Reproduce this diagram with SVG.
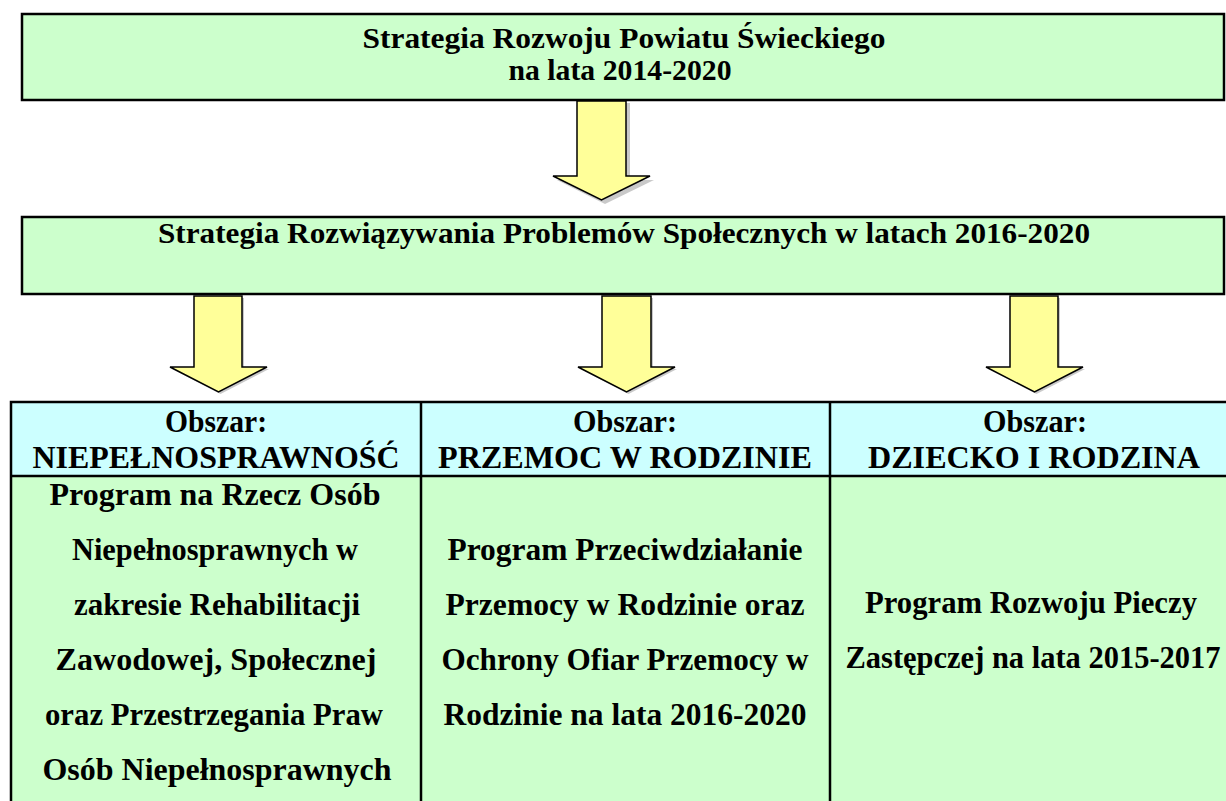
<svg xmlns="http://www.w3.org/2000/svg" width="1226" height="801" viewBox="0 0 1226 801">
<style>
.box{fill:#CCFFCC;stroke:#000;stroke-width:2.5}
.hdr{fill:#CCFFFF}
.body{fill:#CCFFCC}
.line{stroke:#000;stroke-width:2.5;fill:none}
.t{font-family:"Liberation Serif","Times New Roman",serif;font-weight:bold;fill:#000;text-anchor:middle}
.tt{font-size:30px}
.th{font-size:31px}
.tb{font-size:31px}
.arrow{fill:#FFFF99;stroke:#000;stroke-width:1.5;stroke-linejoin:miter}
.shadow{fill:#888;opacity:0.45}
</style>
<rect width="1226" height="801" fill="#fff"/>

<g id="node-strategia-powiatu">
<rect class="box" x="22" y="14" width="1202" height="86"/>
<text class="t tt" x="624" y="48" textLength="523" lengthAdjust="spacingAndGlyphs">Strategia Rozwoju Powiatu Świeckiego</text>
<text class="t tt" x="620" y="80" textLength="223" lengthAdjust="spacingAndGlyphs">na lata 2014-2020</text>
</g>

<g id="node-strategia-problemow">
<rect class="box" x="22" y="217" width="1202" height="77"/>
<text class="t tt" x="624" y="243" textLength="932" lengthAdjust="spacingAndGlyphs">Strategia Rozwiązywania Problemów Społecznych w latach 2016-2020</text>
</g>

<g id="connectors">
<path class="shadow" d="M579,101 H628 V178 H652 L603,202 L555,178 H579 Z" transform="translate(2,2)"/>
<path class="arrow" d="M577,101 H626 V176 H650 L601.5,200 L553,176 H577 Z"/>
<path class="shadow" d="M194,296 H242 V367 H267 L218.5,392 L170,367 H194 Z" transform="translate(2,2)"/>
<path class="arrow" d="M194,296 H242 V367 H267 L218.5,392 L170,367 H194 Z"/>
<path class="shadow" d="M602,296 H651 V367 H675 L626.5,392 L578,367 H602 Z" transform="translate(2,2)"/>
<path class="arrow" d="M602,296 H651 V367 H675 L626.5,392 L578,367 H602 Z"/>
<path class="shadow" d="M1010,296 H1058 V367 H1083 L1034.5,392 L986,367 H1010 Z" transform="translate(2,2)"/>
<path class="arrow" d="M1010,296 H1058 V367 H1083 L1034.5,392 L986,367 H1010 Z"/>
</g>

<g id="table">
<rect class="hdr" x="11" y="402" width="1230" height="74"/>
<rect class="body" x="11" y="476" width="1230" height="340"/>
<path class="line" d="M11,820 V402 H1240 M11,476 H1240 M421,402 V820 M830,402 V820"/>
</g>

<g id="node-niepelnosprawnosc">
<text class="t th" x="216" y="432" textLength="102" lengthAdjust="spacingAndGlyphs">Obszar:</text>
<text class="t th" x="216" y="468" textLength="367" lengthAdjust="spacingAndGlyphs">NIEPEŁNOSPRAWNOŚĆ</text>
<text class="t tb" x="215" y="505" textLength="331" lengthAdjust="spacingAndGlyphs">Program na Rzecz Osób</text>
<text class="t tb" x="215" y="560" textLength="286" lengthAdjust="spacingAndGlyphs">Niepełnosprawnych w</text>
<text class="t tb" x="217" y="615" textLength="286" lengthAdjust="spacingAndGlyphs">zakresie Rehabilitacji</text>
<text class="t tb" x="216" y="670" textLength="321" lengthAdjust="spacingAndGlyphs">Zawodowej, Społecznej</text>
<text class="t tb" x="214" y="725" textLength="338" lengthAdjust="spacingAndGlyphs">oraz Przestrzegania Praw</text>
<text class="t tb" x="217" y="780" textLength="349" lengthAdjust="spacingAndGlyphs">Osób Niepełnosprawnych</text>
</g>

<g id="node-przemoc">
<text class="t th" x="625" y="432" textLength="104" lengthAdjust="spacingAndGlyphs">Obszar:</text>
<text class="t th" x="625" y="468" textLength="374" lengthAdjust="spacingAndGlyphs">PRZEMOC W RODZINIE</text>
<text class="t tb" x="625" y="560" textLength="355" lengthAdjust="spacingAndGlyphs">Program Przeciwdziałanie</text>
<text class="t tb" x="625" y="615" textLength="359" lengthAdjust="spacingAndGlyphs">Przemocy w Rodzinie oraz</text>
<text class="t tb" x="625" y="670" textLength="367" lengthAdjust="spacingAndGlyphs">Ochrony Ofiar Przemocy w</text>
<text class="t tb" x="625" y="725" textLength="363" lengthAdjust="spacingAndGlyphs">Rodzinie na lata  2016-2020</text>
</g>

<g id="node-dziecko">
<text class="t th" x="1035" y="432" textLength="104" lengthAdjust="spacingAndGlyphs">Obszar:</text>
<text class="t th" x="1034" y="468" textLength="332" lengthAdjust="spacingAndGlyphs">DZIECKO I RODZINA</text>
<text class="t tb" x="1031" y="613" textLength="332" lengthAdjust="spacingAndGlyphs">Program Rozwoju Pieczy</text>
<text class="t tb" x="1033" y="668" textLength="375" lengthAdjust="spacingAndGlyphs">Zastępczej na lata 2015-2017</text>
</g>
</svg>
